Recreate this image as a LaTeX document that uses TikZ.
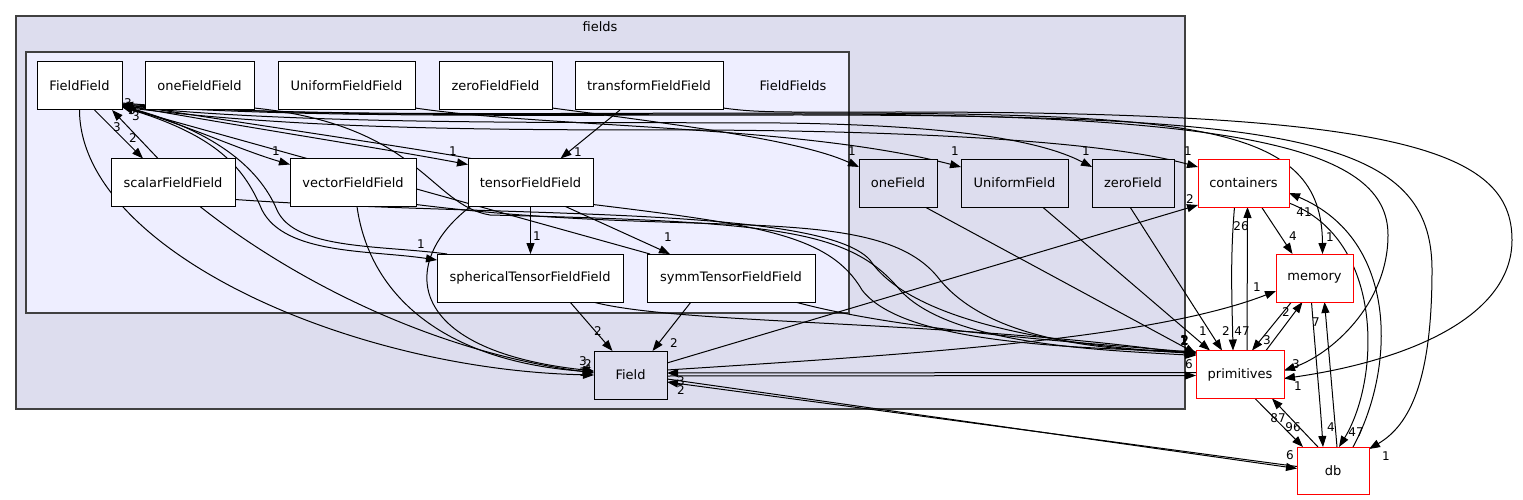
\documentclass[tikz,border=0pt]{standalone}
\usepackage{fontspec}
\setmainfont{DejaVu Sans}
\usetikzlibrary{arrows.meta}

\definecolor{outerbg}{HTML}{DDDDEE}
\definecolor{innerbg}{HTML}{EEEEFF}
\definecolor{clusterline}{HTML}{404040}
\pgfdeclarelayer{bg}
\pgfdeclarelayer{edges}
\pgfsetlayers{bg,edges,main}

\tikzset{
  every node/.style={font=\fontsize{13}{15}\selectfont},
  dirnode/.style={draw=black,line width=1pt,fill=white,minimum height=48pt,inner sep=0pt,outer sep=0pt},
  localdir/.style={dirnode,fill=outerbg},
  extdir/.style={dirnode,draw=red},
  dep/.style={-{Triangle[length=11pt,width=8pt]},line width=1pt},
  lbl/.style={font=\fontsize{12}{13}\selectfont,inner sep=0pt},
}

\begin{document}
\begin{tikzpicture}[x=1pt,y=-1pt]
  \useasboundingbox (0,0) rectangle (1523,500);
  \begin{pgfonlayer}{bg}
    \fill[white] (0,0) rectangle (1523,500);
    \draw[clusterline,fill=outerbg,line width=1.3pt] (16,16) rectangle (1185,409);
    \draw[clusterline,fill=innerbg,line width=1.3pt] (26,52) rectangle (849,313);
  \end{pgfonlayer}
  \node (fieldsname) at (600,27) {fields};
  \node (ffsname) at (793,86) {FieldFields};

  % FieldFields
  \node[dirnode,minimum width=85pt] (FieldField) at (79.5,86) {FieldField};
  \node[dirnode,minimum width=109pt] (oneFieldField) at (199.5,86) {oneFieldField};
  \node[dirnode,minimum width=137pt] (UniformFieldField) at (346.5,86) {UniformFieldField};
  \node[dirnode,minimum width=113pt] (zeroFieldField) at (495.5,86) {zeroFieldField};
  \node[dirnode,minimum width=148pt] (transformFieldField) at (649,86) {transformFieldField};
  \node[dirnode,minimum width=124pt] (scalarFieldField) at (173,182.5) {scalarFieldField};
  \node[dirnode,minimum width=126pt] (vectorFieldField) at (353,182.5) {vectorFieldField};
  \node[dirnode,minimum width=125pt] (tensorFieldField) at (530.5,182.5) {tensorFieldField};
  \node[dirnode,minimum width=186pt] (sphericalTensorFieldField) at (530,278) {sphericalTensorFieldField};
  \node[dirnode,minimum width=168pt] (symmTensorFieldField) at (731,278) {symmTensorFieldField};

  % fields
  \node[localdir,minimum width=73pt] (Field) at (630.5,375) {Field};
  \node[localdir,minimum width=78pt] (oneField) at (898,183) {oneField};
  \node[localdir,minimum width=107pt] (UniformField) at (1014.5,183) {UniformField};
  \node[localdir,minimum width=82pt] (zeroField) at (1133,183) {zeroField};

  % outside
  \node[extdir,minimum width=91pt] (containers) at (1243.5,183) {containers};
  \node[extdir,minimum width=77pt] (memory) at (1314.5,278) {memory};
  \node[extdir,minimum width=88pt] (primitives) at (1240,374.5) {primitives};
  \node[extdir,minimum width=72pt,minimum height=47pt] (db) at (1333,470.5) {db};

  \begin{pgfonlayer}{edges}
    % inside FieldFields
    \draw[dep] ([xshift=15pt]FieldField.south) -- ([xshift=-30pt]scalarFieldField.north) node[lbl] at (133,138) {2};
    \draw[dep] ([xshift=-15pt]scalarFieldField.north) -- ([xshift=-10pt]FieldField.south east) node[lbl] at (117,127) {3};
    \draw[dep] ([yshift=4pt]FieldField.south east) .. controls (190,126) and (240,150) .. ([yshift=-6pt]vectorFieldField.north west) node[lbl] at (276,151) {1};
    \draw[dep] ([yshift=5pt]FieldField.south east) .. controls (250,128) and (380,148) .. ([yshift=-6pt]tensorFieldField.north west) node[lbl] at (453,151) {1};
    \draw[dep] ([xshift=3pt]tensorFieldField.north west) .. controls (400,146) and (250,124) .. ([yshift=6pt]FieldField.south east) node[lbl] at (128,103) {3};
    \draw[dep] ([yshift=3pt]FieldField.south east) .. controls (220,135) and (245,170) .. (262,210) .. controls (285,255) and (370,250) .. ([yshift=-6pt]sphericalTensorFieldField.north west) node[lbl] at (421,244) {1};
    \draw[dep] ([xshift=10pt]sphericalTensorFieldField.north west) .. controls (380,245) and (295,250) .. (277,210) .. controls (258,165) and (210,130) .. ([yshift=4pt]FieldField.south east) node[lbl] at (132,110) {3};
    \draw[dep] ([xshift=3pt]symmTensorFieldField.north west) -- ([yshift=3pt]FieldField.south east) node[lbl] at (136,116) {3};
    \draw[dep] (tensorFieldField.south) -- (tensorFieldField.south |- sphericalTensorFieldField.north) node[lbl] at (537,236) {1};
    \draw[dep] ([xshift=35pt]tensorFieldField.south) -- ([xshift=-61pt]symmTensorFieldField.north) node[lbl] at (668,237) {1};
    \draw[dep] ([xshift=-29pt]transformFieldField.south) -- ([xshift=30pt]tensorFieldField.north) node[lbl] at (578,152) {1};

    % down to Field
    \draw[dep] (FieldField.south) .. controls (80,250) and (350,370) .. (Field.west) node[lbl] at (583,361) {3};
    \draw[dep] ([xshift=27pt]scalarFieldField.south) .. controls (280,270) and (420,350) .. ([yshift=2pt]Field.west) node[lbl] at (588,364) {2};
    \draw[dep] ([xshift=4pt]vectorFieldField.south) .. controls (370,300) and (450,362) .. ([yshift=3pt]Field.west) node[lbl] at (583,372) {1};
    \draw[dep] ([xshift=-60pt]tensorFieldField.south) .. controls (400,260) and (400,350) .. ([yshift=4pt]Field.west) node[lbl] at (588,369) {4};
    \draw[dep] ([xshift=40pt]sphericalTensorFieldField.south) -- ([xshift=-18pt]Field.north) node[lbl] at (598,331) {2};
    \draw[dep] ([xshift=-40pt]symmTensorFieldField.south) -- ([xshift=22pt]Field.north) node[lbl] at (674,343) {2};

    % across the top
    \draw[dep] ([yshift=2pt]UniformFieldField.south east) .. controls (550,128) and (800,125) .. ([yshift=-8pt]UniformField.north west) node[lbl] at (955,151) {1};
    \draw[dep] ([yshift=2pt]zeroFieldField.south east) .. controls (680,125) and (800,140) .. ([yshift=-8pt]oneField.north west) node[lbl] at (852,151) {1};
    \draw[dep] ([yshift=4pt]FieldField.south east) .. controls (300,125) and (550,122) .. (780,123) .. controls (950,125) and (1040,140) .. ([yshift=-8pt]zeroField.north west) node[lbl] at (1086,151) {1};
    \draw[dep] ([yshift=3pt]FieldField.south east) .. controls (300,130) and (500,130) .. (700,130) .. controls (900,131) and (1100,140) .. ([yshift=-8pt]containers.north west) node[lbl] at (1188,151) {1};
    \draw[dep] ([yshift=7pt]FieldField.south east) .. controls (300,118) and (500,114) .. (800,114) .. controls (1250,114) and (1388,150) .. (1388,235) .. controls (1388,305) and (1330,355) .. ([yshift=4pt]primitives.east) node[lbl] at (1296,364) {3};
    \draw[dep] ([yshift=6pt]FieldField.south east) .. controls (300,117) and (500,113) .. (800,113) .. controls (1200,113) and (1322,125) .. ([xshift=8pt]memory.north) node[lbl] at (1330,237) {1};
    \draw[dep] ([yshift=5pt]FieldField.south east) .. controls (300,118) and (500,115) .. (800,115) .. controls (1300,115) and (1432,140) .. (1432,270) .. controls (1432,380) and (1410,425) .. ([yshift=-2pt]db.north east) node[lbl] at (1386,456) {1};
    \draw[dep] ([yshift=2pt]transformFieldField.south east) .. controls (760,113) and (780,112) .. (900,112) .. controls (1400,112) and (1512,150) .. (1512,240) .. controls (1512,320) and (1400,362) .. ([yshift=-4pt]primitives.east) node[lbl] at (1298,386) {1};

    % into primitives
    \draw[dep] ([yshift=2pt]oneFieldField.south east) .. controls (420,125) and (430,205) .. (490,215) .. controls (780,222) and (850,230) .. (900,290) .. controls (950,345) and (1100,350) .. ([yshift=-5pt]primitives.north west) node[lbl] at (1184,341) {1};
    \draw[dep] ([yshift=7pt]scalarFieldField.south east) .. controls (500,218) and (820,205) .. (870,260) .. controls (910,320) and (1050,345) .. ([yshift=-3pt]primitives.north west) node[lbl] at (1185,340) {2};
    \draw[dep] ([yshift=2pt]vectorFieldField.south east) .. controls (700,240) and (880,200) .. (940,280) .. controls (990,340) and (1100,350) .. ([yshift=-2pt]primitives.north west) node[lbl] at (1184,340) {1};
    \draw[dep] ([yshift=2pt]tensorFieldField.south east) .. controls (760,225) and (830,235) .. (862,290) .. controls (900,340) and (1050,348) .. ([yshift=-1pt]primitives.north west) node[lbl] at (1185,341) {2};
    \draw[dep] ([xshift=-30pt]sphericalTensorFieldField.south east) .. controls (680,325) and (950,320) .. ([yshift=-4pt]primitives.north west) node[lbl] at (1184,341) {1};
    \draw[dep] ([xshift=-20pt]symmTensorFieldField.south east) .. controls (900,330) and (1050,340) .. ([yshift=-2pt]primitives.north west) node[lbl] at (1185,340) {2};
    \draw[dep] ([xshift=27pt]oneField.south) -- ([yshift=-3pt]primitives.north west) node[lbl] at (1184,340) {1};
    \draw[dep] ([xshift=28pt]UniformField.south) -- ([xshift=14pt]primitives.north west) node[lbl] at (1203,331) {1};
    \draw[dep] ([xshift=-3pt]zeroField.south) -- ([xshift=26pt]primitives.north west) node[lbl] at (1226,331) {2};

    % Field outwards
    \draw[dep] ([yshift=12pt]Field.east) -- ([yshift=2pt]containers.south west) node[lbl] at (1190,199) {2};
    \draw[dep] ([yshift=5pt]Field.east) .. controls (900,355) and (1150,340) .. ([yshift=-13pt]memory.west) node[lbl] at (1257,287) {1};
    \draw[dep] ([yshift=-1pt]Field.east) -- ([yshift=-1pt]primitives.west) node[lbl] at (1189,364) {6};
    \draw[dep] ([yshift=2pt]primitives.west) -- ([yshift=2pt]Field.east) node[lbl] at (681,381) {3};
    \draw[dep] ([yshift=-4pt]Field.east) -- ([yshift=2pt]db.west) node[lbl] at (1290,455) {6};
    \draw[dep] ([yshift=4pt]db.west) -- ([yshift=-7pt]Field.east) node[lbl] at (681,390) {2};

    % outside dirs
    \draw[dep] ([xshift=18pt]containers.south) -- ([xshift=-22pt]memory.north) node[lbl] at (1293,236) {4};
    \draw[dep] ([xshift=7pt]primitives.north) -- ([xshift=4pt]containers.south) node[lbl] at (1241,226) {26};
    \draw[dep] ([xshift=-9pt]containers.south) .. controls (1230,260) and (1232,300) .. ([xshift=-7pt]primitives.north) node[lbl] at (1242,331) {47};
    \draw[dep] ([xshift=-23pt]memory.south) -- ([xshift=12pt]primitives.north) node[lbl] at (1267,340) {3};
    \draw[dep] ([xshift=26pt]primitives.north) -- ([xshift=-12pt]memory.south) node[lbl] at (1286,312) {2};
    \draw[dep] ([xshift=-3pt]memory.south) .. controls (1316,360) and (1320,400) .. ([xshift=-10pt]db.north) node[lbl] at (1331,427) {4};
    \draw[dep] ([xshift=4pt]db.north) -- ([xshift=10pt]memory.south) node[lbl] at (1316,322) {7};
    \draw[dep] ([xshift=15pt]primitives.south) -- ([xshift=-30pt]db.north) node[lbl] at (1293,427) {96};
    \draw[dep] ([xshift=-15pt]db.north) -- ([xshift=32pt]primitives.south) node[lbl] at (1278,418) {87};
    \draw[dep] ([yshift=-20pt]containers.east) .. controls (1385,240) and (1380,380) .. ([xshift=6pt]db.north) node[lbl] at (1356,432) {47};
    \draw[dep] ([xshift=20pt]db.north) .. controls (1395,370) and (1400,240) .. ([yshift=-10pt]containers.east) node[lbl] at (1304,212) {41};
  \end{pgfonlayer}
\end{tikzpicture}
\end{document}
